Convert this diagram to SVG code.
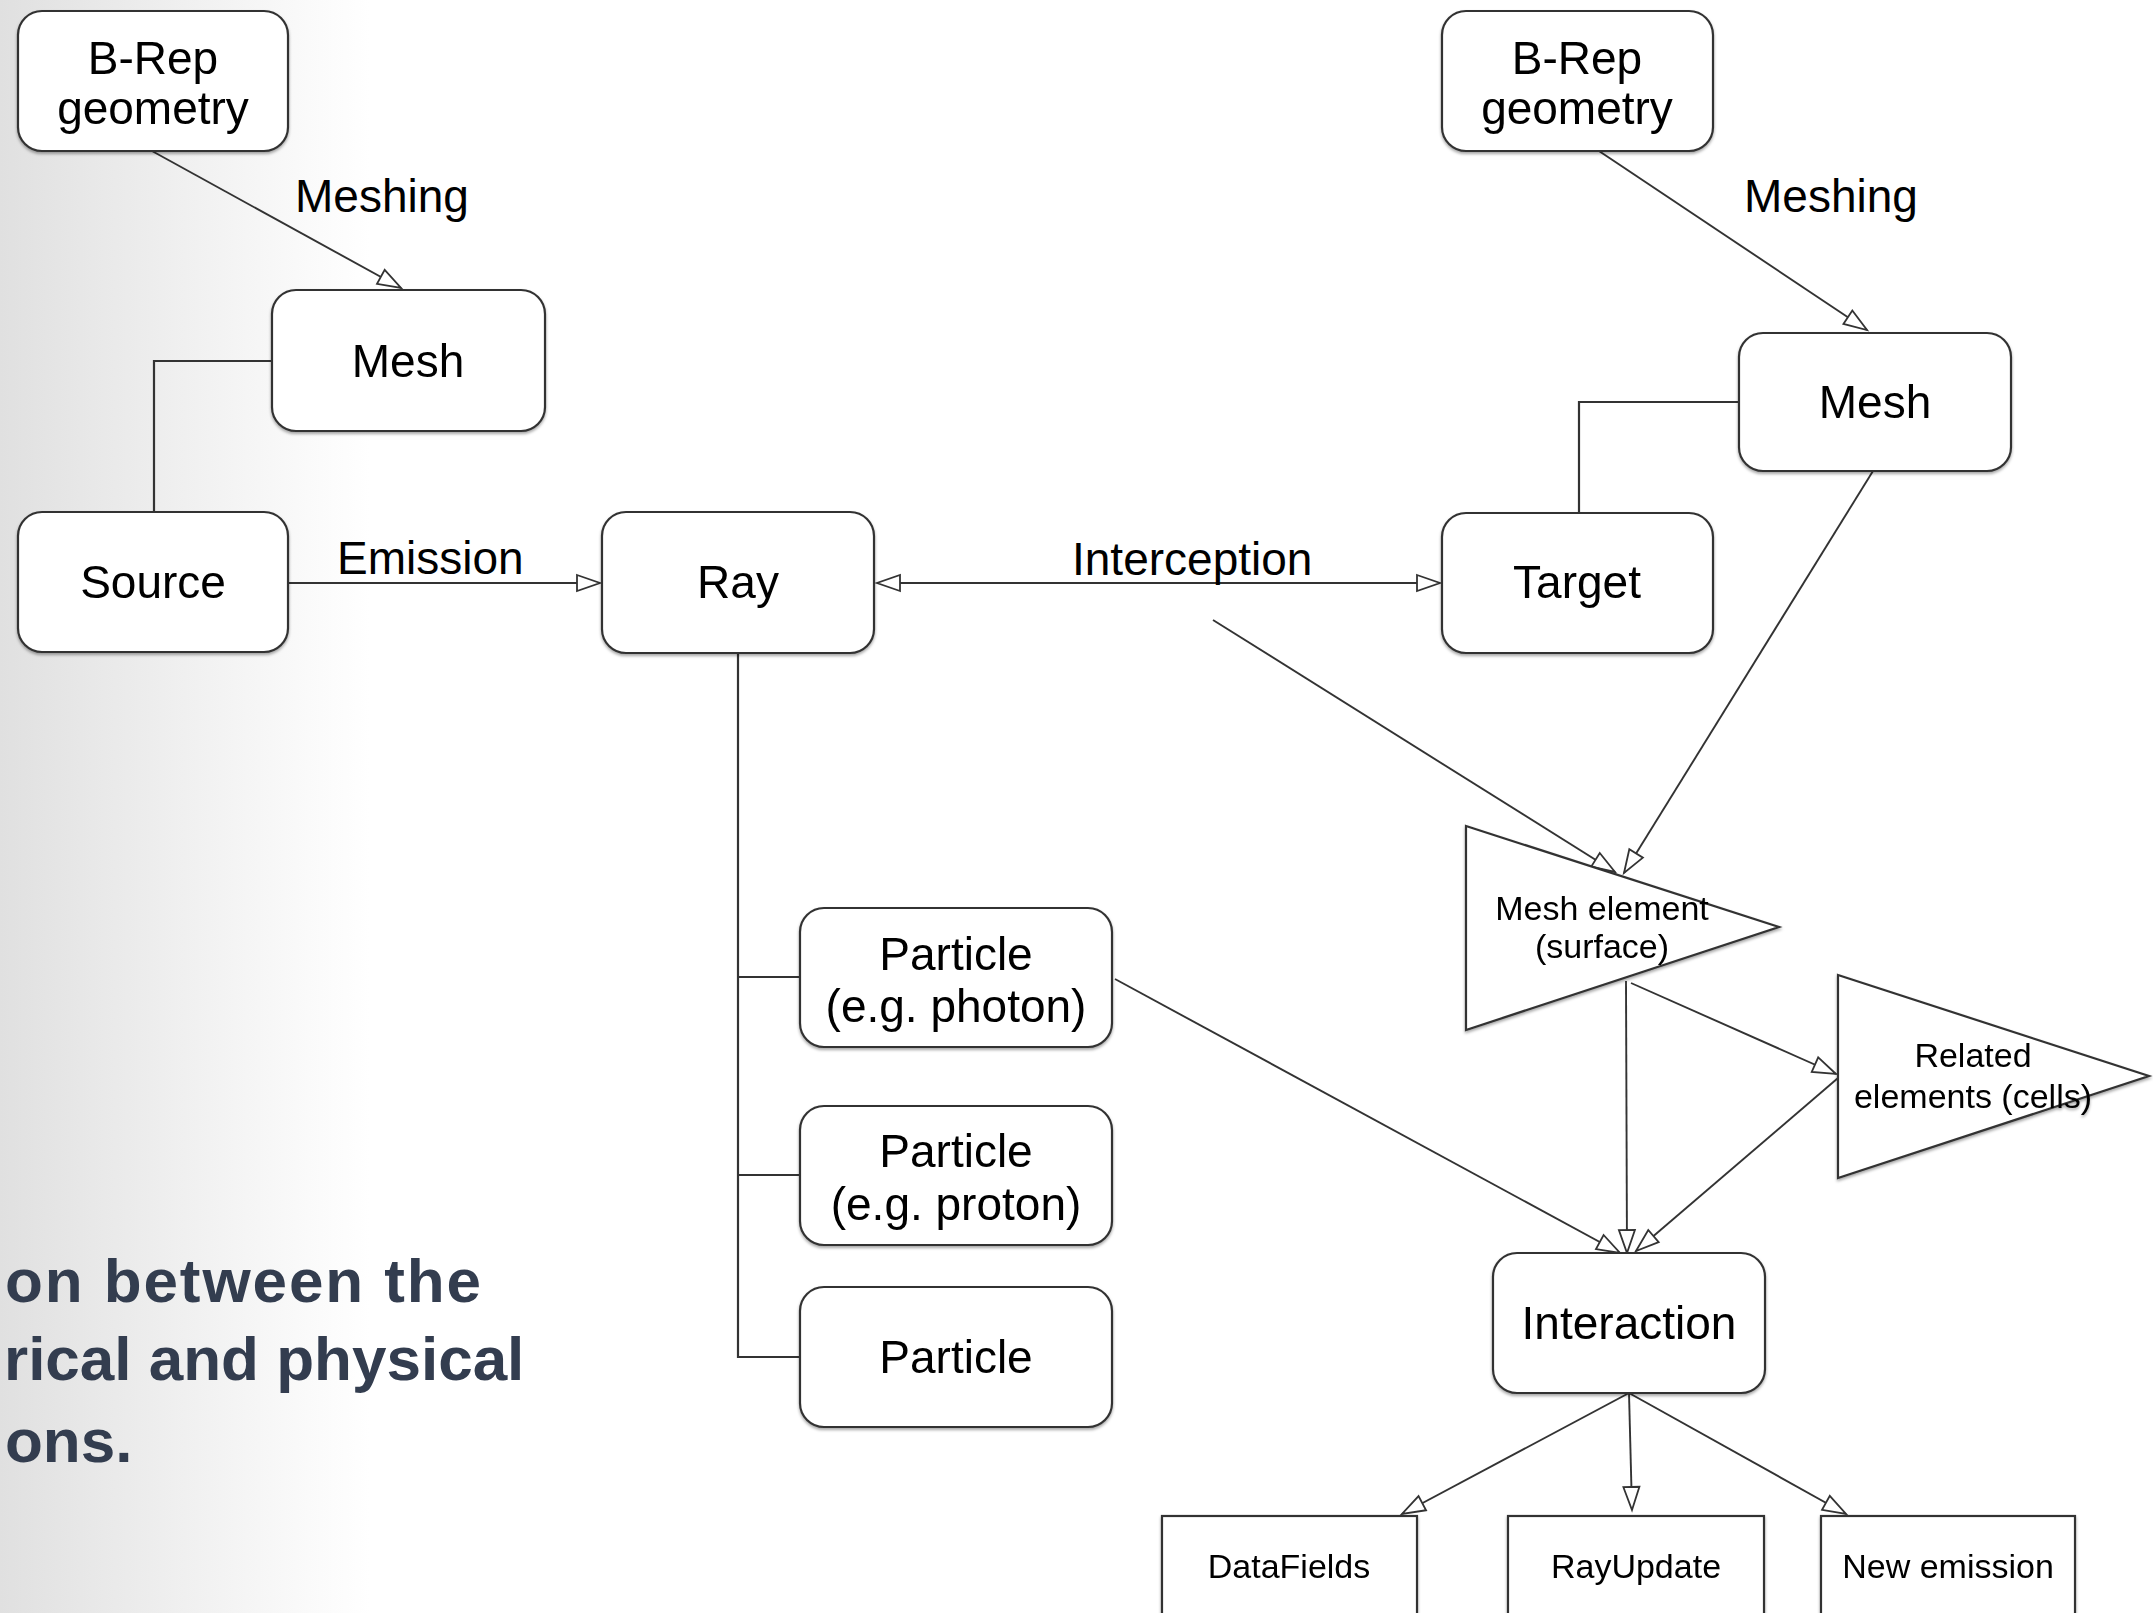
<svg xmlns="http://www.w3.org/2000/svg" width="2153" height="1613" viewBox="0 0 2153 1613">
<defs>
<linearGradient id="bg" x1="0" y1="0" x2="370" y2="0" gradientUnits="userSpaceOnUse">
<stop offset="0" stop-color="#e0e0e0"/>
<stop offset="0.5" stop-color="#f0f0f0"/>
<stop offset="1" stop-color="#ffffff"/>
</linearGradient>
<filter id="sh" x="-10%" y="-10%" width="120%" height="130%">
<feDropShadow dx="0" dy="2" stdDeviation="1.5" flood-color="#000" flood-opacity="0.35"/>
</filter>
<marker id="ar" markerUnits="userSpaceOnUse" markerWidth="28" markerHeight="22" refX="25" refY="10" orient="auto-start-reverse">
<path d="M2,2 L25,10 L2,18 Z" fill="#fff" stroke="#333" stroke-width="1.8" stroke-linejoin="miter"/>
</marker>
</defs>
<style>
.box{fill:#fff;stroke:#333;stroke-width:2.2}
.t{font-family:"Liberation Sans",Arial,sans-serif;font-size:46px;fill:#000;text-anchor:middle}
.s{font-family:"Liberation Sans",Arial,sans-serif;font-size:34px;fill:#000;text-anchor:middle}
.lbl{font-family:"Liberation Sans",Arial,sans-serif;font-size:46px;fill:#000}
.side{font-family:"Liberation Sans",Arial,sans-serif;font-size:62px;font-weight:700;fill:#333d4f}
.c{fill:none;stroke:#333;stroke-width:2.2}
.ca{fill:none;stroke:#333;stroke-width:1.9;marker-end:url(#ar)}
</style>
<rect x="0" y="0" width="2153" height="1613" fill="url(#bg)"/>

<g id="side-text">
<text class="side" x="5" y="1302" textLength="476">on between the</text>
<text class="side" x="4" y="1380">rical and physical</text>
<text class="side" x="5" y="1462">ons.</text>
</g>

<g id="connectors">
<path class="ca" d="M152,151 L401,288"/>
<path class="c" d="M272,361 H154 V512"/>
<path class="ca" d="M288,583 H600"/>
<path class="ca" d="M877,583 H1440" marker-start="url(#ar)"/>
<path class="ca" d="M1599,151 L1867,330"/>
<path class="c" d="M1739,402 H1579 V513"/>
<path class="c" d="M738,653 V1357 H800 M738,977 H800 M738,1175 H800"/>
<path class="ca" d="M1213,620 L1615,872"/>
<path class="ca" d="M1873,471 L1624,873"/>
<path class="ca" d="M1626,981 L1627,1253"/>
<path class="ca" d="M1631,983 L1836,1074"/>
<path class="ca" d="M1838,1078 L1636,1251"/>
<path class="ca" d="M1115,979 L1620,1253"/>
<path class="ca" d="M1629,1393 L1402,1514"/>
<path class="ca" d="M1629,1393 L1632,1510"/>
<path class="ca" d="M1629,1393 L1846,1514"/>
</g>

<g id="labels">
<text class="lbl" x="295" y="212">Meshing</text>
<text class="lbl" x="337" y="574">Emission</text>
<text class="lbl" x="1072" y="575">Interception</text>
<text class="lbl" x="1744" y="212">Meshing</text>
</g>

<g id="brep-left" filter="url(#sh)">
<rect class="box" x="18" y="11" width="270" height="140" rx="24"/>
<text class="t" x="153" y="74">B-Rep</text>
<text class="t" x="153" y="124">geometry</text>
</g>
<g id="mesh-left" filter="url(#sh)">
<rect class="box" x="272" y="290" width="273" height="141" rx="24"/>
<text class="t" x="408" y="377">Mesh</text>
</g>
<g id="source" filter="url(#sh)">
<rect class="box" x="18" y="512" width="270" height="140" rx="24"/>
<text class="t" x="153" y="598">Source</text>
</g>
<g id="ray" filter="url(#sh)">
<rect class="box" x="602" y="512" width="272" height="141" rx="24"/>
<text class="t" x="738" y="598">Ray</text>
</g>
<g id="brep-right" filter="url(#sh)">
<rect class="box" x="1442" y="11" width="271" height="140" rx="24"/>
<text class="t" x="1577" y="74">B-Rep</text>
<text class="t" x="1577" y="124">geometry</text>
</g>
<g id="mesh-right" filter="url(#sh)">
<rect class="box" x="1739" y="333" width="272" height="138" rx="24"/>
<text class="t" x="1875" y="418">Mesh</text>
</g>
<g id="target" filter="url(#sh)">
<rect class="box" x="1442" y="513" width="271" height="140" rx="24"/>
<text class="t" x="1577" y="598">Target</text>
</g>
<g id="particle-photon" filter="url(#sh)">
<rect class="box" x="800" y="908" width="312" height="139" rx="24"/>
<text class="t" x="956" y="970">Particle</text>
<text class="t" x="956" y="1022">(e.g. photon)</text>
</g>
<g id="particle-proton" filter="url(#sh)">
<rect class="box" x="800" y="1106" width="312" height="139" rx="24"/>
<text class="t" x="956" y="1167">Particle</text>
<text class="t" x="956" y="1220">(e.g. proton)</text>
</g>
<g id="particle" filter="url(#sh)">
<rect class="box" x="800" y="1287" width="312" height="140" rx="24"/>
<text class="t" x="956" y="1373">Particle</text>
</g>
<g id="mesh-element" filter="url(#sh)">
<path class="box" d="M1466,826 L1779,927 L1466,1030 Z"/>
<text class="s" x="1602" y="920">Mesh element</text>
<text class="s" x="1602" y="958">(surface)</text>
</g>
<g id="related-elements" filter="url(#sh)">
<path class="box" d="M1838,975 L2149,1076 L1838,1178 Z"/>
<text class="s" x="1973" y="1067">Related</text>
<text class="s" x="1973" y="1108">elements (cells)</text>
</g>
<g id="interaction" filter="url(#sh)">
<rect class="box" x="1493" y="1253" width="272" height="140" rx="24"/>
<text class="t" x="1629" y="1339">Interaction</text>
</g>
<g id="datafields" filter="url(#sh)">
<rect class="box" x="1162" y="1516" width="255" height="120"/>
<text class="s" x="1289" y="1578">DataFields</text>
</g>
<g id="rayupdate" filter="url(#sh)">
<rect class="box" x="1508" y="1516" width="256" height="120"/>
<text class="s" x="1636" y="1578">RayUpdate</text>
</g>
<g id="new-emission" filter="url(#sh)">
<rect class="box" x="1821" y="1516" width="254" height="120"/>
<text class="s" x="1948" y="1578">New emission</text>
</g>
</svg>
